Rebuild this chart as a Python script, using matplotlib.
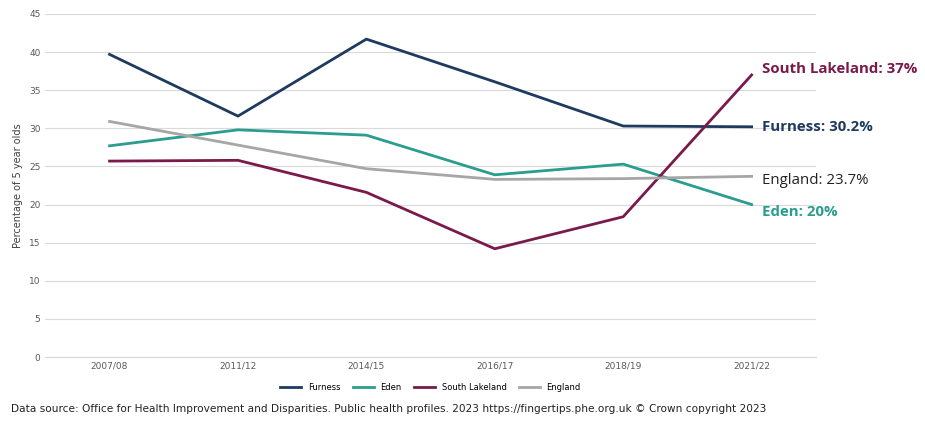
import matplotlib.pyplot as plt
import numpy as np

years = ["2007/08", "2011/12", "2014/15", "2016/17", "2018/19", "2021/22"]
furness = [39.7, 31.6, 41.7, 36.1, 30.3, 30.2]
eden = [27.7, 29.8, 29.1, 23.9, 25.3, 20.0]
south_lakeland = [25.7, 25.8, 21.6, 14.2, 18.4, 37.0]
england = [30.9, 27.8, 24.7, 23.3, 23.4, 23.7]

series = [
    ("Furness", furness, "#1d3a5f", "Furness: 30.2%", True),
    ("Eden", eden, "#2a9d8f", "Eden: 20%", True),
    ("South Lakeland", south_lakeland, "#7a1a4b", "South Lakeland: 37%", True),
    ("England", england, "#a6a6a6", "England: 23.7%", False),
]

fig = plt.figure(figsize=(9.25, 4.23), dpi=100)
ax = fig.add_axes([0.049, 0.156, 0.833, 0.811])
x = np.arange(len(years))

for name, vals, color, _, _ in series:
    ax.plot(x, vals, color=color, linewidth=2.0, label=name)

label_y = {"Furness": 30.2, "Eden": 19.0, "South Lakeland": 37.8, "England": 23.2}
for name, vals, color, text, bold in series:
    txtcolor = "#222222" if name == "England" else color
    ax.text(len(years) - 1 + 0.08, label_y[name], text, color=txtcolor,
            fontsize=10.8, fontweight="bold" if bold else "normal",
            va="center", ha="left", family="Open Sans", clip_on=False)

ax.set_xlim(-0.5, len(years) - 0.5)
ax.set_ylim(0, 45)
ax.set_yticks(range(0, 46, 5))
ax.set_xticks(x)
ax.set_xticklabels(years)
ax.tick_params(axis="both", labelsize=6.5, colors="#595959", length=0)
ax.grid(axis="y", color="#d9d9d9", linewidth=0.8)
ax.set_axisbelow(True)
for s in ["top", "right", "left"]:
    ax.spines[s].set_visible(False)
ax.spines["bottom"].set_color("#d9d9d9")
ax.set_ylabel("Percentage of 5 year olds", fontsize=7, color="#404040")

ax.legend(loc="upper center", bbox_to_anchor=(0.5, -0.055), ncol=4,
          frameon=False, fontsize=6, handlelength=2.5, columnspacing=1.5)

fig.text(0.012, 0.025,
         "Data source: Office for Health Improvement and Disparities. Public health profiles. 2023 "
         "https://fingertips.phe.org.uk \u00a9 Crown copyright 2023",
         fontsize=7.6, color="#222222")

fig.savefig("out.png", dpi=100)
